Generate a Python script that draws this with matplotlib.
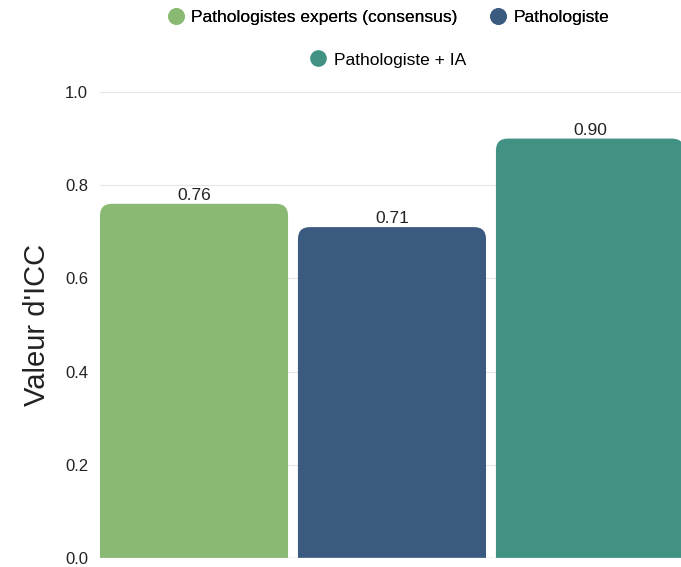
import matplotlib.pyplot as plt
from matplotlib.patches import FancyBboxPatch
from matplotlib.lines import Line2D

groups = ["Pathologistes experts (consensus)", "Pathologiste", "Pathologiste + IA"]
icc_values = [0.76, 0.71, 0.90]
colors = ["#89b972", "#3a5a80", "#429284"]
y_ticks = [0.0, 0.2, 0.4, 0.6, 0.8, 1.0]

plt.rcParams['font.family'] = ['Liberation Sans', 'DejaVu Sans']

fig = plt.figure(figsize=(6.81, 5.67), dpi=100)
ax = fig.add_axes([0.1468, 0.0159, 0.8576, 0.8219])

width = 0.95
rx = 0.06
aspect = 0.43
for i, (val, col) in enumerate(zip(icc_values, colors)):
    # rounded top corners; the bottom rounding sits below 0 and is clipped
    patch = FancyBboxPatch((i - width / 2, -rx * aspect), width, val + rx * aspect,
                           boxstyle=f"round,pad=0,rounding_size={rx}",
                           mutation_aspect=aspect, facecolor=col,
                           edgecolor="none", zorder=3)
    ax.add_patch(patch)
    ax.text(i, val + 0.002, f"{val:.2f}", ha="center", va="bottom",
            fontsize=12.5, color="#222222", zorder=4)

ax.set_xlim(-width / 2, 2 + width / 2)
ax.set_ylim(0, 1.0)
ax.set_yticks(y_ticks)
ax.set_yticklabels([f"{t:.1f}" for t in y_ticks], fontsize=12, color="#222222")
ax.set_xticks([])
ax.tick_params(axis="y", length=0, pad=8.5)
ax.grid(axis="y", color="#e6e6e6", linewidth=0.8, zorder=0)
ax.axhline(0, color="#d0d0d0", linewidth=1.0, zorder=5)
for s in ax.spines.values():
    s.set_visible(False)
ax.set_ylabel("Valeur d'ICC", fontsize=21, color="#222222", labelpad=10)

handles = [Line2D([], [], marker="o", linestyle="none", markersize=12,
                  markerfacecolor=c, markeredgecolor="none") for c in colors]
leg1 = fig.legend(handles[:2], groups[:2], loc="center", ncol=2,
                  bbox_to_anchor=(388 / 681, 1 - 17 / 567), frameon=False,
                  fontsize=12.5, handletextpad=0.4, columnspacing=1.8,
                  handlelength=1.0)
fig.add_artist(leg1)
fig.legend(handles[2:], groups[2:], loc="center",
           bbox_to_anchor=(388 / 681, 1 - 60 / 567), frameon=False,
           fontsize=12.5, handletextpad=0.4, handlelength=1.0)

fig.savefig("out.png", dpi=100)
